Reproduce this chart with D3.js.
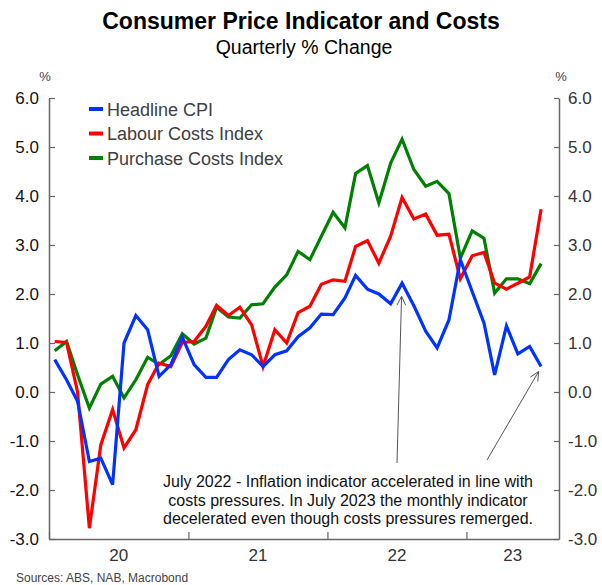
<!DOCTYPE html>
<html>
<head>
<meta charset="utf-8">
<script src="https://cdn.jsdelivr.net/npm/d3@7"></script>
<style>
  body { margin: 0; background: #fff; }
  svg { font-family: "Liberation Sans", Arial, sans-serif; }
</style>
</head>
<body>
<div id="chart"></div>
<script>
// monthly observations, Jan 2020 .. Jul 2023
var months = d3.timeMonth.range(new Date(2020, 0, 1), new Date(2023, 7, 1));

var headlineCPI = [0.66, 0.25, -0.19, -1.42, -1.35, -1.89, 1.00, 1.56, 1.27, 0.32,
  0.56, 1.12, 0.56, 0.30, 0.30, 0.66, 0.86, 0.76, 0.52, 0.76,
  0.84, 1.13, 1.31, 1.59, 1.58, 1.92, 2.38, 2.10, 2.00, 1.80,
  2.22, 1.76, 1.24, 0.90, 1.47, 2.70, 2.05, 1.41, 0.35, 1.35,
  0.78, 0.93, 0.52];

var labourCosts = [1.03, 1.01, 0.00, -2.78, -1.08, -0.36, -1.14, -0.77, 0.15, 0.59,
  0.52, 1.01, 1.03, 1.34, 1.77, 1.56, 1.73, 1.37, 0.52, 1.27,
  1.00, 1.62, 1.75, 2.20, 2.29, 2.26, 2.97, 3.09, 2.63, 3.18,
  3.97, 3.53, 3.63, 3.20, 3.22, 2.31, 2.78, 2.85, 2.22, 2.10,
  2.22, 2.35, 3.73];

var purchaseCosts = [0.84, 1.03, 0.35, -0.33, 0.16, 0.32, -0.12, 0.25, 0.71, 0.56,
  0.74, 1.19, 0.98, 1.10, 1.73, 1.53, 1.51, 1.78, 1.80, 2.14,
  2.39, 2.87, 2.70, 3.18, 3.67, 3.35, 4.46, 4.62, 3.86, 4.67,
  5.16, 4.54, 4.20, 4.30, 4.05, 2.73, 3.29, 3.14, 2.02, 2.31,
  2.31, 2.21, 2.62];

var seriesNames = ["Headline CPI", "Labour Costs Index", "Purchase Costs Index"];
var seriesColors = ["#0033ff", "#ff0000", "#008000"];
var yTicks = [-3, -2, -1, 0, 1, 2, 3, 4, 5, 6];
var yearLabels = ["20", "21", "22", "23"];
var noteLines = [
  "July 2022 - Inflation indicator accelerated in line with",
  "costs pressures. In July 2023 the monthly indicator",
  "decelerated even though costs pressures remerged."
];

var W = 602, H = 585;
var svg = d3.select("#chart").append("svg").attr("width", W).attr("height", H);

var x = d3.scaleTime()
  .domain([new Date(2020, 0, 1), new Date(2023, 8, 1)])
  .range([49, 559]);
var y = d3.scaleLinear().domain([-3, 6]).range([539, 98]);

function mid(d){ return new Date(d.getFullYear(), d.getMonth(), 16); }

// titles
svg.append("text").attr("x", 301).attr("y", 29).attr("text-anchor", "middle")
  .style("font-size", "23px").style("font-weight", "bold").attr("fill", "#000")
  .text("Consumer Price Indicator and Costs");
svg.append("text").attr("x", 304).attr("y", 54).attr("text-anchor", "middle")
  .style("font-size", "19.5px").attr("fill", "#000")
  .text("Quarterly % Change");

// axes
var fmt = function(d){ return d.toFixed(1); };
var gl = svg.append("g").attr("transform", "translate(49,0)")
  .call(d3.axisLeft(y).tickValues(yTicks).tickFormat(fmt).tickSize(-6).tickSizeOuter(0).tickPadding(10));
var gr = svg.append("g").attr("transform", "translate(559,0)")
  .call(d3.axisRight(y).tickValues(yTicks).tickFormat(fmt).tickSize(-5).tickSizeOuter(0).tickPadding(9));
var gb = svg.append("g").attr("transform", "translate(0,539)")
  .call(d3.axisBottom(x).ticks(d3.timeYear.every(1)).tickFormat("").tickSize(-7).tickSizeOuter(0));

[gl, gr, gb].forEach(function(g){
  g.select(".domain").attr("stroke", "#666").attr("stroke-width", 1.5);
  g.selectAll(".tick line").attr("stroke", "#666").attr("stroke-width", 1.2);
  g.selectAll(".tick text").style("font-size", "17px").style("font-family", "Liberation Sans, Arial, sans-serif");
});
gl.selectAll(".tick text").attr("fill", "#111");
gr.selectAll(".tick text").attr("fill", "#333");

svg.append("text").attr("x", 45).attr("y", 81).attr("text-anchor", "middle")
  .style("font-size", "13px").attr("fill", "#444").text("%");
svg.append("text").attr("x", 561).attr("y", 81).attr("text-anchor", "middle")
  .style("font-size", "13px").attr("fill", "#444").text("%");

// year labels, centred in the visible part of each year
var xEnd = x.domain()[1];
svg.append("g").selectAll("text").data(yearLabels).enter().append("text")
  .attr("x", function(d){
    var a = new Date(2000 + (+d), 0, 1);
    var b = new Date(2001 + (+d), 0, 1);
    if (b > xEnd) b = xEnd;
    return (x(a) + x(b)) / 2;
  })
  .attr("y", 561).attr("text-anchor", "middle")
  .style("font-size", "17px").attr("fill", "#333")
  .text(function(d){ return d; });

// lines
var allSeries = [headlineCPI, labourCosts, purchaseCosts];
var line = d3.line()
  .x(function(d, i){ return x(mid(months[i])); })
  .y(function(d){ return y(d); });

[2, 1, 0].forEach(function(k){
  svg.append("path").datum(allSeries[k])
    .attr("fill", "none").attr("stroke", seriesColors[k])
    .attr("stroke-width", 3.2).attr("stroke-linejoin", "miter")
    .attr("d", line);
});

// legend
var lg = svg.append("g");
seriesNames.forEach(function(n, i){
  var yy = 109 + i * 24.5;
  lg.append("line").attr("x1", 89).attr("x2", 103).attr("y1", yy).attr("y2", yy)
    .attr("stroke", seriesColors[i]).attr("stroke-width", 4);
  lg.append("text").attr("x", 107).attr("y", yy + 6.5).style("font-size", "18px")
    .attr("fill", "#404040").text(n);
});

// annotation
svg.append("g").selectAll("text").data(noteLines).enter().append("text")
  .attr("x", 348).attr("y", function(d, i){ return 487 + i * 18.5; })
  .attr("text-anchor", "middle").style("font-size", "16px").attr("fill", "#111")
  .text(function(d){ return d; });

function arrow(x0, y0, x1, y1){
  var a = Math.atan2(y1 - y0, x1 - x0), L = 10, s = 0.45;
  var g = svg.append("g").attr("stroke", "#555").attr("stroke-width", 1).attr("fill", "none");
  g.append("line").attr("x1", x0).attr("y1", y0).attr("x2", x1).attr("y2", y1);
  g.append("path").attr("d",
    "M" + (x1 - L * Math.cos(a - s)) + "," + (y1 - L * Math.sin(a - s)) +
    "L" + x1 + "," + y1 +
    "L" + (x1 - L * Math.cos(a + s)) + "," + (y1 - L * Math.sin(a + s)));
}
var jul22 = 30, jul23 = 42;
arrow(397, 463, x(mid(months[jul22])) - 0.5, y(headlineCPI[jul22]) + 13);
arrow(487, 460, x(mid(months[jul23])) - 2.5, y(headlineCPI[jul23]) + 5);

// source
svg.append("text").attr("x", 16).attr("y", 582).style("font-size", "12px")
  .attr("fill", "#444").text("Sources: ABS, NAB, Macrobond");
</script>
</body>
</html>
